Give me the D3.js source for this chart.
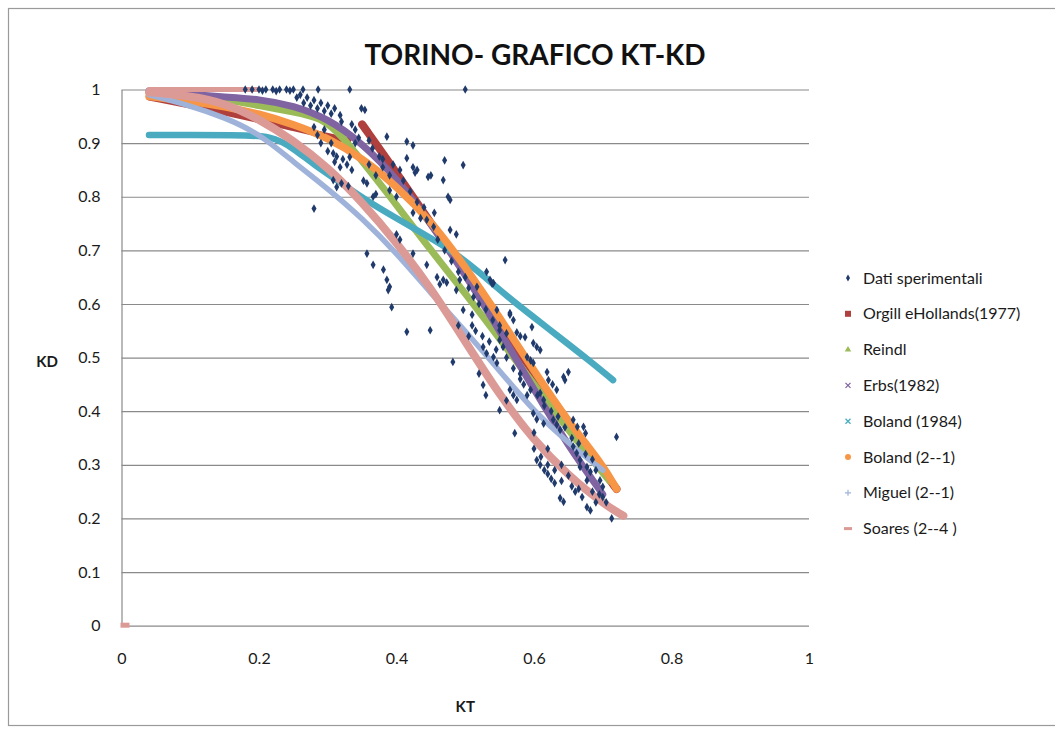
<!DOCTYPE html>
<html>
<head>
<meta charset="utf-8">
<script src="https://cdn.jsdelivr.net/npm/d3@7"></script>
<style>
  body { margin: 0; background: #fff; }
  svg { display: block; }
  text { font-family: Lato, "Open Sans", sans-serif; fill: #1a1a1a; }
</style>
</head>
<body>
<svg width="1055" height="729"></svg>
<script>
// ---- data (KT, KD) ----
var kdTicks = [0, 0.1, 0.2, 0.3, 0.4, 0.5, 0.6, 0.7, 0.8, 0.9, 1];
var ktTicks = [0, 0.2, 0.4, 0.6, 0.8, 1];

var orgillA = [[0.04,0.985],[0.1,0.97],[0.15,0.957],[0.2,0.943],[0.25,0.928],[0.3,0.913],[0.33,0.905]];
var orgillB = [[0.35,0.935],[0.4,0.845],[0.45,0.75],[0.5,0.66],[0.55,0.565],[0.6,0.47],[0.65,0.38],[0.7,0.29],[0.72,0.255]];
var reindl = [[0.04,0.995],[0.1,0.99],[0.15,0.982],[0.2,0.97],[0.25,0.958],[0.29,0.948],[0.32,0.915],[0.36,0.85],
  [0.4,0.785],[0.45,0.70],[0.5,0.62],[0.55,0.535],[0.6,0.45],[0.65,0.365],[0.7,0.285],[0.71,0.27]];
var erbs = [[0.04,0.997],[0.1,0.991],[0.15,0.986],[0.2,0.982],[0.25,0.97],[0.3,0.946],[0.35,0.9],[0.4,0.835],
  [0.45,0.75],[0.5,0.655],[0.55,0.55],[0.6,0.44],[0.65,0.335],[0.7,0.245]];
var boland84 = [[0.04,0.915],[0.1,0.915],[0.16,0.915],[0.22,0.914],[0.25,0.89],[0.28,0.86],[0.32,0.825],[0.36,0.79],
  [0.4,0.76],[0.44,0.73],[0.48,0.70],[0.52,0.66],[0.56,0.615],[0.6,0.575],[0.64,0.535],[0.68,0.495],[0.715,0.458]];
var boland21 = [[0.04,0.987],[0.1,0.978],[0.15,0.968],[0.2,0.955],[0.25,0.935],[0.3,0.91],[0.35,0.872],[0.4,0.82],
  [0.45,0.755],[0.5,0.67],[0.55,0.575],[0.6,0.475],[0.65,0.38],[0.7,0.3],[0.72,0.255]];
var miguel = [[0.04,0.99],[0.1,0.97],[0.15,0.948],[0.2,0.918],[0.25,0.865],[0.3,0.815],[0.35,0.76],[0.4,0.695],
  [0.45,0.62],[0.5,0.55],[0.55,0.475],[0.6,0.4],[0.65,0.34],[0.7,0.29]];
var soaresTop = [[0.04,1.0],[0.1,1.0],[0.2,1.0]];
var soares = [[0.04,0.995],[0.1,0.988],[0.15,0.975],[0.2,0.945],[0.25,0.905],[0.3,0.855],[0.35,0.79],[0.4,0.715],
  [0.45,0.63],[0.5,0.53],[0.55,0.43],[0.6,0.345],[0.65,0.28],[0.7,0.228],[0.73,0.205]];
var soaresOrigin = [[0,0]];

var dati = [
  [0.18,1.0],[0.19,1.0],[0.2,1.0],[0.205,0.998],[0.21,1.0],[0.22,1.0],[0.225,0.997],[0.23,1.0],[0.24,1.0],
  [0.245,0.998],[0.25,1.0],[0.264,1.0],[0.286,1.0],[0.332,1.0],[0.5,1.0],
  [0.255,0.985],[0.26,0.99],[0.265,0.975],[0.27,0.985],[0.275,0.97],[0.28,0.98],[0.285,0.965],[0.29,0.975],
  [0.295,0.96],[0.3,0.97],[0.305,0.955],[0.31,0.965],[0.318,0.952],[0.32,0.94],[0.349,0.965],[0.354,0.962],
  [0.28,0.93],[0.285,0.915],[0.29,0.9],[0.295,0.925],[0.3,0.885],[0.305,0.9],[0.308,0.881],[0.31,0.865],
  [0.313,0.875],[0.318,0.855],[0.322,0.87],[0.328,0.86],[0.332,0.874],[0.335,0.85],[0.34,0.9],
  [0.308,0.831],[0.313,0.818],[0.32,0.825],[0.33,0.82],[0.352,0.83],[0.357,0.825],[0.28,0.778],
  [0.366,0.8],[0.37,0.805],[0.386,0.912],[0.39,0.812],[0.4,0.8],[0.415,0.903],[0.424,0.896],[0.415,0.872],
  [0.47,0.868],[0.497,0.859],[0.424,0.855],[0.427,0.845],[0.43,0.85],[0.446,0.837],[0.45,0.84],[0.468,0.831],
  [0.478,0.794],[0.475,0.8],[0.424,0.77],[0.435,0.76],[0.444,0.757],[0.454,0.744],[0.478,0.738],[0.487,0.73],
  [0.4,0.73],[0.405,0.72],[0.357,0.694],[0.366,0.673],[0.381,0.664],[0.386,0.645],[0.39,0.632],[0.388,0.626],
  [0.424,0.694],[0.444,0.673],[0.459,0.65],[0.463,0.637],[0.468,0.645],[0.473,0.64],[0.487,0.626],[0.492,0.645],
  [0.497,0.589],[0.393,0.594],[0.531,0.66],[0.558,0.682],[0.541,0.639],[0.512,0.613],[0.517,0.632],[0.546,0.589],
  [0.565,0.58],[0.57,0.57],[0.51,0.58],[0.536,0.645],[0.539,0.638],[0.565,0.583],[0.575,0.547],[0.58,0.54],
  [0.587,0.538],[0.597,0.557],[0.599,0.527],[0.604,0.52],[0.609,0.514],[0.59,0.501],[0.595,0.495],[0.599,0.49],
  [0.619,0.473],[0.621,0.458],[0.627,0.45],[0.633,0.44],[0.643,0.464],[0.645,0.458],[0.65,0.473],
  [0.55,0.551],[0.56,0.545],[0.55,0.533],[0.555,0.52],[0.541,0.501],[0.546,0.49],[0.526,0.52],[0.531,0.508],
  [0.565,0.44],[0.57,0.43],[0.575,0.421],[0.609,0.434],[0.614,0.421],[0.599,0.396],[0.604,0.385],[0.614,0.377],
  [0.628,0.384],[0.633,0.375],[0.638,0.365],[0.672,0.371],[0.675,0.359],[0.72,0.352],[0.657,0.334],[0.662,0.322],
  [0.667,0.309],[0.677,0.296],[0.682,0.287],[0.604,0.309],[0.609,0.3],[0.615,0.29],[0.62,0.283],[0.625,0.274],
  [0.63,0.266],[0.638,0.238],[0.643,0.231],[0.677,0.221],[0.682,0.215],[0.713,0.2],[0.667,0.296],[0.677,0.271],
  [0.657,0.384],[0.663,0.371],[0.696,0.271],[0.7,0.259],
  [0.415,0.548],[0.449,0.551],[0.482,0.492],[0.526,0.449],[0.55,0.402],[0.572,0.359],
  [0.49,0.56],[0.505,0.54],[0.52,0.47],[0.53,0.43],[0.56,0.42],[0.58,0.46],[0.59,0.43],[0.6,0.36],[0.62,0.33],
  [0.64,0.3],[0.65,0.28],[0.66,0.25],[0.67,0.24],[0.69,0.23],[0.7,0.24],
  [0.36,0.86],[0.37,0.84],[0.38,0.87],[0.395,0.86],[0.405,0.85],[0.41,0.83],[0.42,0.81],[0.43,0.79],[0.44,0.78],
  [0.455,0.77],[0.46,0.72],[0.47,0.70],[0.48,0.68],[0.49,0.66],[0.5,0.65],[0.505,0.63],[0.52,0.6],[0.53,0.59],
  [0.54,0.57],[0.55,0.56],
  [0.335,0.935],[0.34,0.925],[0.345,0.91],[0.36,0.905],[0.365,0.89],[0.375,0.875],[0.38,0.855],[0.39,0.84],
  [0.51,0.56],[0.515,0.55],[0.525,0.54],[0.535,0.53],[0.545,0.515],[0.56,0.5],[0.57,0.48],[0.58,0.47],
  [0.585,0.45],[0.595,0.44],[0.605,0.43],[0.615,0.41],[0.625,0.4],[0.635,0.39],[0.645,0.37],[0.655,0.35],
  [0.665,0.34],[0.675,0.32],[0.685,0.31],[0.69,0.29],[0.6,0.33],[0.61,0.315],[0.62,0.3],[0.63,0.29],
  [0.64,0.27],[0.655,0.26],[0.665,0.255],[0.685,0.25],[0.695,0.245],[0.705,0.23]
];

var legendNames = ["Dati sperimentali", "Orgill eHollands(1977)", "Reindl", "Erbs(1982)", "Boland (1984)",
  "Boland (2--1)", "Miguel (2--1)", "Soares (2--4 )"];

// ---- layout ----
var svg = d3.select("svg"),
    width = +svg.attr("width"),
    height = +svg.attr("height");

var x = d3.scaleLinear().domain([0, 1]).range([121.5, 809]),
    y = d3.scaleLinear().domain([0, 1]).range([625.7, 89.5]);

// chart frame
svg.append("rect")
  .attr("x", 8.5).attr("y", 8.5)
  .attr("width", 1060).attr("height", 717)
  .attr("fill", "#fff").attr("stroke", "#9a9a9a").attr("stroke-width", 1.2);

// title
svg.append("text")
  .attr("x", 535).attr("y", 65)
  .attr("text-anchor", "middle")
  .style("font-size", "28px").style("font-weight", "bold")
  .style("fill", "#111")
  .text("TORINO- GRAFICO KT-KD");

// y axis with gridlines
var yAxis = svg.append("g")
  .attr("transform", "translate(" + x(0) + ",0)")
  .call(d3.axisLeft(y).tickValues(kdTicks).tickSize(-(x(1) - x(0))).tickSizeOuter(0).tickPadding(21)
    .tickFormat(function(d) { return String(d); }));
yAxis.selectAll(".tick line").attr("stroke", "#8a8a8a").attr("stroke-width", 1.2);
yAxis.select(".domain").attr("stroke", "#8a8a8a").attr("stroke-width", 1.2);
yAxis.selectAll("text").style("font-size", "16px").style("font-family", "Lato, sans-serif").attr("fill", "#1a1a1a");

// x axis labels
var xAxis = svg.append("g")
  .attr("transform", "translate(0," + y(0) + ")")
  .call(d3.axisBottom(x).tickValues(ktTicks).tickSize(0).tickPadding(27)
    .tickFormat(function(d) { return String(d); }));
xAxis.select(".domain").remove();
xAxis.selectAll("text").style("font-size", "16px").style("font-family", "Lato, sans-serif").attr("fill", "#1a1a1a");

// axis titles
svg.append("text")
  .attr("x", 47).attr("y", 367)
  .attr("text-anchor", "middle")
  .style("font-size", "15px").style("font-weight", "bold")
  .text("KD");
svg.append("text")
  .attr("x", (x(0) + x(1)) / 2).attr("y", 712)
  .attr("text-anchor", "middle")
  .style("font-size", "15px").style("font-weight", "bold")
  .text("KT");

// model curves (dense markers in the original, drawn as thick bands)
var line = d3.line()
  .x(function(d) { return x(d[0]); })
  .y(function(d) { return y(d[1]); })
  .curve(d3.curveBasis);

var curves = [
  { data: orgillA, color: "#b0403d", w: 6 },
  { data: orgillB, color: "#b0403d", w: 8 },
  { data: reindl, color: "#9bbb59", w: 7 },
  { data: erbs, color: "#8064a2", w: 7 },
  { data: boland84, color: "#4aabc0", w: 6.5 },
  { data: boland21, color: "#f79646", w: 7.5 },
  { data: miguel, color: "#9fb3da", w: 5.5 },
  { data: soaresTop, color: "#dc9a96", w: 5 },
  { data: soares, color: "#dc9a96", w: 8 }
];

var plot = svg.append("g");
plot.selectAll("path.curve")
  .data(curves)
  .enter().append("path")
  .attr("class", "curve")
  .attr("d", function(d) { return line(d.data); })
  .attr("fill", "none")
  .attr("stroke", function(d) { return d.color; })
  .attr("stroke-width", function(d) { return d.w; })
  .attr("stroke-linecap", "round")
  .attr("stroke-linejoin", "round");

plot.selectAll("rect.origin")
  .data(soaresOrigin)
  .enter().append("rect")
  .attr("class", "origin")
  .attr("x", function(d) { return x(d[0]) - 1; })
  .attr("y", function(d) { return y(d[1]) - 3; })
  .attr("width", 9).attr("height", 5)
  .attr("fill", "#dc9a96");

// experimental points
var diamond = d3.symbol().type(d3.symbolDiamond).size(22);
plot.selectAll("path.dot")
  .data(dati)
  .enter().append("path")
  .attr("class", "dot")
  .attr("d", diamond)
  .attr("transform", function(d) { return "translate(" + x(d[0]) + "," + y(d[1]) + ")"; })
  .attr("fill", "#1f3a6b");

// legend
var legendColors = ["#1f3a6b", "#b0403d", "#9bbb59", "#8064a2", "#4aabc0", "#f79646", "#9fb3da", "#dc9a96"];
var legend = svg.append("g").attr("transform", "translate(848,0)");
var rows = legend.selectAll("g")
  .data(legendNames)
  .enter().append("g")
  .attr("transform", function(d, i) { return "translate(0," + (278 + i * 35.8) + ")"; });

rows.append("text")
  .attr("x", 15).attr("dy", "0.35em")
  .style("font-size", "16px")
  .text(function(d) { return d; });

rows.each(function(d, i) {
  var g = d3.select(this), c = legendColors[i];
  if (i === 0) g.append("path").attr("d", d3.symbol().type(d3.symbolDiamond).size(14)).attr("fill", c);
  else if (i === 1) g.append("rect").attr("x", -3).attr("y", -3).attr("width", 6).attr("height", 6).attr("fill", c);
  else if (i === 2) g.append("path").attr("d", d3.symbol().type(d3.symbolTriangle).size(18)).attr("fill", c);
  else if (i === 3 || i === 4) {
    g.append("path").attr("d", "M-2.5,-2.5L2.5,2.5M-2.5,2.5L2.5,-2.5").attr("stroke", c).attr("stroke-width", 1.3);
  }
  else if (i === 5) g.append("circle").attr("r", 3).attr("fill", c);
  else if (i === 6) g.append("path").attr("d", "M-3,0L3,0M0,-3L0,3").attr("stroke", c).attr("stroke-width", 1.2);
  else g.append("rect").attr("x", -4).attr("y", -1.5).attr("width", 8).attr("height", 3).attr("fill", c);
});
</script>
</body>
</html>
